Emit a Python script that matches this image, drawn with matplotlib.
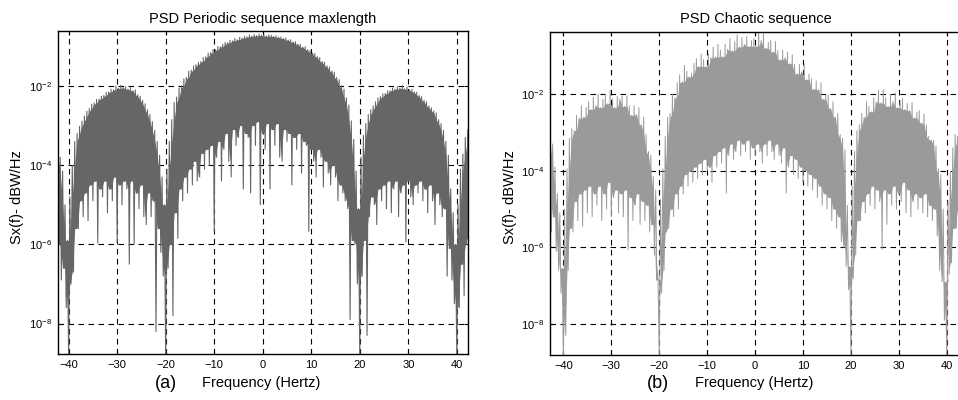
import numpy as np
import matplotlib.pyplot as plt

plt.rcParams['font.family'] = ['Liberation Sans', 'DejaVu Sans']
plt.rcParams['mathtext.default'] = 'regular'

# sample positions of the spectrum (Hz), 0.5 Hz apart
freq = np.arange(-43, 43.5, 0.5)

# log10 of the PSD: upper tips and lower tips of the trace
# panel (a) periodic maxlength sequence
top_a = [-3.05, -3.25, -3.42, -3.8, -4.15, -5.0, -5.9, -4.8, -4.0, -3.4,
         -3.2, -3.02, -2.89, -2.76, -2.64, -2.57, -2.46, -2.43, -2.34, -2.33,
         -2.26, -2.24, -2.16, -2.15, -2.08, -2.1, -2.0, -2.06, -1.98, -2.04,
         -2.02, -2.08, -2.04, -2.12, -2.1, -2.22, -2.26, -2.36, -2.45, -2.6,
         -2.72, -2.9, -3.12, -3.4, -3.75, -4.3, -5.0, -4.1, -3.4, -2.85,
         -2.42, -2.28, -2.05, -1.99, -1.82, -1.78, -1.63, -1.6, -1.49, -1.46,
         -1.4, -1.38, -1.28, -1.26, -1.17, -1.16, -1.08, -1.09, -1.0, -1.01,
         -0.95, -0.9, -0.91, -0.85, -0.86, -0.8, -0.83, -0.77, -0.79, -0.74,
         -0.76, -0.71, -0.74, -0.7, -0.73, -0.69, -0.72, -0.7, -0.74, -0.71,
         -0.72, -0.75, -0.73, -0.77, -0.76, -0.8, -0.79, -0.84, -0.83, -0.89,
         -0.88, -0.94, -0.95, -1.02, -1.01, -1.08, -1.1, -1.17, -1.18, -1.26,
         -1.28, -1.38, -1.4, -1.49, -1.52, -1.62, -1.65, -1.78, -1.84, -1.99,
         -2.08, -2.3, -2.48, -2.88, -3.35, -4.15, -5.1, -3.8, -3.25, -2.95,
         -2.72, -2.6, -2.5, -2.4, -2.3, -2.27, -2.2, -2.19, -2.12, -2.12,
         -2.05, -2.08, -2.02, -2.06, -1.99, -2.07, -2.03, -2.1, -2.08, -2.15,
         -2.16, -2.24, -2.27, -2.36, -2.4, -2.5, -2.55, -2.63, -2.68, -2.85,
         -2.95, -3.12, -3.4, -3.75, -4.6, -5.2, -6.0, -5.0, -4.1, -3.72,
         -3.3, -3.1, -2.95]
bot_a = [-5.7, -6.3, -6.0, -6.9, -6.6, -7.6, -8.95, -7.0, -6.7, -5.6,
         -5.6, -4.9, -5.3, -4.7, -5.4, -4.5, -4.9, -4.4, -5.97, -4.6,
         -4.8, -4.4, -5.2, -4.6, -4.9, -4.3, -5.95, -4.5, -5.0, -4.4,
         -4.6, -6.5, -4.4, -6.0, -4.7, -5.1, -4.5, -5.3, -5.5, -4.7,
         -5.3, -4.9, -8.2, -5.6, -6.2, -6.8, -8.95, -6.6, -6.0, -7.8,
         -5.2, -5.85, -4.6, -4.9, -4.3, -4.7, -4.1, -4.5, -3.9, -4.4,
         -4.3, -3.7, -4.1, -3.6, -4.0, -3.5, -5.67, -3.8, -3.4, -4.4,
         -3.6, -3.2, -3.9, -4.3, -3.1, -3.5, -3.3, -3.0, -4.6, -3.2,
         -3.3, -4.7, -3.0, -3.5, -2.9, -5.0, -3.2, -3.6, -2.95, -4.6,
         -3.1, -3.5, -2.95, -3.8, -3.9, -3.1, -3.4, -3.2, -4.5, -3.3,
         -3.6, -3.2, -4.2, -3.4, -3.5, -5.67, -3.6, -3.9, -4.3, -3.6,
         -3.8, -4.55, -3.9, -4.2, -4.5, -4.0, -4.3, -4.9, -4.5, -4.7,
         -4.9, -5.1, -7.9, -5.9, -6.0, -7.0, -8.95, -6.8, -5.9, -8.3,
         -5.3, -4.8, -5.0, -5.5, -4.6, -4.9, -4.5, -5.1, -4.4, -5.2,
         -4.6, -4.4, -5.3, -4.7, -4.5, -5.94, -4.4, -4.8, -5.0, -4.5,
         -4.7, -4.4, -4.9, -4.6, -5.2, -4.5, -4.9, -5.5, -4.7, -5.0,
         -5.3, -5.1, -6.8, -6.1, -6.9, -7.5, -8.95, -7.6, -6.5, -7.3,
         -6.0, -5.8, -5.6]

# panel (b) chaotic sequence
top_b = [-2.9, -3.3, -3.3, -3.9, -4.6, -5.1, -6.55, -5.0, -3.95, -3.15,
         -2.9, -2.95, -2.55, -2.63, -2.3, -2.6, -2.35, -2.2, -2.4, -2.08,
         -2.3, -2.0, -2.35, -2.13, -2.0, -2.25, -1.9, -2.12, -2.35, -2.05,
         -2.13, -2.05, -2.32, -2.05, -2.3, -2.55, -2.3, -2.53, -2.35, -2.8,
         -2.6, -3.05, -3.5, -3.6, -4.15, -4.5, -6.85, -4.75, -3.95, -3.1,
         -2.6, -2.5, -2.0, -2.1, -1.7, -1.5, -1.68, -1.25, -1.4, -1.55,
         -1.45, -1.2, -1.07, -1.28, -0.95, -1.1, -1.28, -0.94, -1.05, -0.77,
         -1.03, -0.7, -0.85, -1.02, -0.7, -0.83, -0.55, -0.87, -0.63, -0.45,
         -0.77, -0.52, -0.7, -0.5, -0.75, -0.6, -0.55, -0.75, -0.38, -0.6,
         -0.37, -0.8, -0.65, -0.6, -0.9, -0.62, -0.86, -1.1, -0.85, -1.05,
         -0.9, -1.2, -0.97, -1.22, -1.47, -1.22, -1.42, -1.22, -1.62, -1.48,
         -1.6, -1.87, -1.65, -1.88, -1.7, -2.13, -2.02, -2.02, -2.37, -2.2,
         -2.6, -2.5, -3.05, -3.15, -3.45, -4.9, -6.5, -4.4, -3.5, -2.95,
         -2.8, -2.5, -2.6, -2.2, -2.32, -2.46, -2.1, -2.2, -1.9, -2.23,
         -1.88, -2.1, -2.32, -2.03, -2.2, -1.97, -2.35, -2.18, -2.11, -2.4,
         -2.24, -2.43, -2.22, -2.62, -2.47, -2.43, -2.75, -2.52, -2.8, -3.1,
         -3.2, -3.2, -3.35, -3.95, -4.1, -5.0, -6.9, -4.8, -4.05, -3.4,
         -3.05, -3.1, -2.8]
bot_b = [-4.7, -5.6, -5.2, -6.1, -6.6, -7.2, -8.95, -8.3, -6.6, -5.5,
         -5.6, -4.8, -5.3, -4.6, -5.45, -4.5, -5.1, -4.4, -5.2, -4.6,
         -4.9, -4.4, -5.3, -4.6, -5.0, -4.3, -5.2, -4.7, -4.5, -5.1,
         -4.6, -5.2, -4.5, -6.06, -4.7, -5.3, -4.9, -4.6, -5.4, -4.8,
         -5.3, -4.9, -5.6, -5.4, -6.2, -6.8, -8.95, -7.2, -6.6, -5.6,
         -5.5, -5.0, -5.2, -4.6, -5.0, -4.4, -4.6, -4.1, -4.4, -4.0,
         -4.3, -3.9, -4.2, -3.8, -4.1, -3.7, -4.0, -3.9, -4.3, -3.6,
         -3.9, -3.5, -3.8, -3.4, -4.58, -3.6, -3.3, -3.7, -3.5, -3.2,
         -3.6, -3.3, -3.5, -3.2, -3.7, -3.4, -3.6, -3.3, -3.5, -3.8,
         -3.3, -3.6, -3.2, -3.5, -3.7, -3.3, -3.6, -3.8, -3.4, -4.58,
         -3.9, -3.6, -4.1, -3.7, -4.2, -3.9, -4.3, -4.0, -4.4, -4.1,
         -4.5, -4.2, -4.7, -4.4, -4.9, -4.6, -5.0, -4.7, -5.3, -5.0,
         -5.5, -5.2, -5.85, -6.0, -6.5, -7.1, -8.95, -6.8, -6.2, -5.3,
         -5.3, -4.8, -5.1, -4.6, -4.9, -4.4, -5.0, -4.5, -4.8, -6.05,
         -4.5, -5.4, -4.6, -4.9, -4.4, -5.0, -4.6, -4.8, -4.3, -5.1,
         -4.5, -5.2, -4.8, -4.6, -5.0, -4.7, -5.1, -4.6, -5.2, -4.9,
         -5.3, -5.0, -5.7, -6.6, -6.9, -7.9, -8.95, -6.7, -6.4, -5.5,
         -5.5, -5.0, -4.9]

titles = ["PSD Periodic sequence maxlength", "PSD Chaotic sequence"]
tags = ["(a)", "(b)"]
colors = ["#666666", "#9a9a9a"]
x_ticks = [-40, -30, -20, -10, 0, 10, 20, 30, 40]
y_ticks = [1e-8, 1e-6, 1e-4, 1e-2]
y_tick_labels = ["$10^{-8}$", "$10^{-6}$", "$10^{-4}$", "$10^{-2}$"]


def trace(top, bot):
    # upper tip just before each sample, lower tip on it -> dense zigzag
    x = np.column_stack([freq - 0.25, freq]).ravel()
    y = np.column_stack([10.0 ** np.array(top), 10.0 ** np.array(bot)]).ravel()
    return x, y


def body(top, bot):
    # solid core of the band: lowest neighbouring top tip, higher of two bottom tips
    t = np.pad(np.array(top), 1, mode="edge")
    b = np.pad(np.array(bot), 1, mode="edge")
    upper = np.min([t[:-2], t[1:-1], t[2:]], axis=0)
    lower = np.max([b[:-2], b[1:-1]], axis=0)
    return 10.0 ** upper, 10.0 ** lower


fig = plt.figure(figsize=(9.58, 4.0), dpi=100)

panels = [
    dict(rect=[0.0605, 0.115, 0.428, 0.8075], xlim=(-42.2, 42.3), ylim=(1.7e-9, 0.245),
         top=top_a, bot=bot_a, lw=0.8, ylab_x=0.0175, tag_x=0.173, xlab_x=0.2725),
    dict(rect=[0.5738, 0.1125, 0.43, 0.8085], xlim=(-42.86, 43.1), ylim=(1.55e-9, 0.43),
         top=top_b, bot=bot_b, lw=0.7, ylab_x=0.532, tag_x=0.687, xlab_x=0.7868),
]

for i, p in enumerate(panels):
    ax = fig.add_axes(p["rect"])
    up, lo = body(p["top"], p["bot"])
    ax.fill_between(freq - 0.25, up, lo, color=colors[i], lw=0, zorder=2)
    x, y = trace(p["top"], p["bot"])
    ax.plot(x, y, color=colors[i], lw=p["lw"], zorder=2)
    ax.set_yscale("log")
    ax.set_xlim(*p["xlim"])
    ax.set_ylim(*p["ylim"])
    ax.set_xticks(x_ticks)
    ax.set_yticks(y_ticks)
    ax.set_yticklabels(y_tick_labels)
    ax.minorticks_off()
    ax.grid(True, color="black", linestyle=(0, (5, 4)), lw=0.8)
    ax.tick_params(direction="in", length=3, top=True, right=True, labelsize=8, pad=4)
    for s in ax.spines.values():
        s.set_linewidth(1.0)
    ax.set_title(titles[i], fontsize=10.5, pad=6)
    fig.text(p["ylab_x"], 0.508, "Sx(f)- dBW/Hz", rotation=90, ha="center", va="center", fontsize=10.5)
    fig.text(p["xlab_x"], 0.043, "Frequency (Hertz)", ha="center", va="center", fontsize=10.5)
    fig.text(p["tag_x"], 0.04, tags[i], ha="center", va="center", fontsize=13)

fig.savefig("out.png", dpi=100)
